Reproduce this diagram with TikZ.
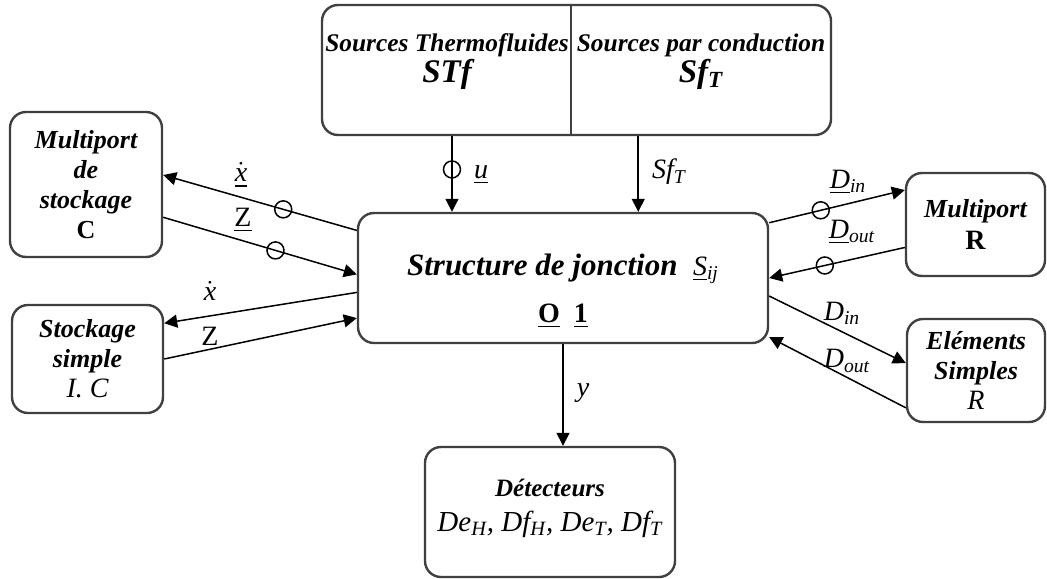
\documentclass[tikz,border=0pt]{standalone}
\usepackage{amsmath}
\usepackage{fontspec}
\setmainfont{Liberation Serif}
\usetikzlibrary{arrows.meta}
\definecolor{boxgray}{HTML}{404040}
\newcommand{\xd}{\ensuremath{\dot{\text{\itshape x}}}}
\newcommand{\sub}[1]{\ensuremath{{}_{\text{#1}}}}
\tikzset{
  block/.style={draw=boxgray, line width=1.2pt, rounded corners=8pt, align=center, inner sep=2pt},
  blocktext/.style={font=\fontsize{13}{15}\selectfont\bfseries\itshape},
  flow/.style={-{Triangle[length=6.5pt,width=6.5pt]}, line width=0.75pt},
  port/.style={circle, draw, line width=0.75pt, inner sep=0pt, minimum size=8.5pt},
  sig/.style={inner sep=1pt, font=\fontsize{14}{16}\selectfont\itshape}
}
\begin{document}
\begin{tikzpicture}[x=0.5pt, y=-0.5pt]
  \useasboundingbox (0,0) rectangle (1047,578);

  % sources
  \node[block, minimum width=254.5pt, minimum height=65pt] (src) at (576.5,70) {};
  \coordinate (div) at (571,70);
  \draw[boxgray, line width=1.2pt] (div |- src.north) -- (div |- src.south);
  \node[blocktext, align=center, font=\fontsize{12.7}{15.5}\selectfont\bfseries\itshape] (stf) at (447,62)
    {Sources Thermofluides\\ {\fontsize{16.5}{15.5}\selectfont STf}};
  \node[blocktext, align=center, font=\fontsize{12.7}{15.5}\selectfont\bfseries\itshape] (sft) at (701,62)
    {Sources par conduction\\ {\fontsize{16.5}{15.5}\selectfont Sf\sub{T}}};

  % jonction et detecteurs
  \node[block, minimum width=205pt, minimum height=65pt, font=\fontsize{15.5}{19}\selectfont\bfseries\itshape] (sj) at (563,278)
    {\rule{0pt}{24pt}Structure de jonction~ {\fontsize{14}{16}\selectfont\mdseries\underline{S}\sub{ij}}\\[4.5pt]
     {\upshape\fontsize{14}{16}\selectfont\underline{O}~~\underline{1}}};
  \node[block, minimum width=125pt, minimum height=65pt, font=\fontsize{14.5}{17.5}\selectfont\itshape] (det) at (550,512)
    {{\fontsize{12.5}{17.5}\selectfont\bfseries D\'etecteurs}\\
     De\sub{H}, Df\sub{H}, De\sub{T}, Df\sub{T}\rule[-7pt]{0pt}{7pt}};

  % elements lateraux
  \node[block, blocktext, minimum width=76pt, minimum height=72.5pt] (mpc) at (86,184.5)
    {Multiport\\ de\\ stockage\\ {\upshape C}};
  \node[block, blocktext, minimum width=75.5pt, minimum height=54pt] (stk) at (87.5,359)
    {Stockage\\ simple\\ {\mdseries\fontsize{14}{15}\selectfont I. C}};
  \node[block, blocktext, minimum width=69.5pt, minimum height=51.5pt, font=\fontsize{13}{16}\selectfont\bfseries\itshape] (mpr) at (975.5,224.5)
    {Multiport\\ {\upshape\fontsize{14}{16}\selectfont R}};
  \node[block, blocktext, minimum width=69pt, minimum height=51.5pt] (els) at (976,370.5)
    {El\'ements\\ Simples\\ {\mdseries\fontsize{14}{15}\selectfont R}};

  % liens
  \draw[flow] (sj.167) -- node[port, pos=0.38] (c1) {} (mpc.7);
  \draw[flow] (mpc.337) -- node[port, pos=0.58] (c2) {} (sj.179);
  \draw[flow] (sj.184) -- (stk.25);
  \draw[flow] (stk.0) -- (sj.191);
  \draw[flow] (sj.15) -- node[port, pos=0.38] (c3) {} (mpr.154);
  \draw[flow] (mpr.198) -- node[port, pos=0.59] (c4) {} (sj.0);
  \draw[flow] (sj.355) -- (els.174);
  \draw[flow] (els.208) -- (sj.344);
  \draw[flow] (src.208) -- node[port, pos=0.44] (c5) {} (src.208 |- sj.north);
  \draw[flow] (src.313) -- (src.313 |- sj.north);
  \draw[flow] (sj.south) -- (sj.south |- det.north);

  % etiquettes
  \node[sig] (lx1) at (241,175) {\underline{\xd}};
  \node[sig] (lz1) at (243,220) {\upshape\underline{Z}};
  \node[sig] (lx2) at (210,291) {\xd};
  \node[sig] (lz2) at (210,336) {\upshape Z};
  \node[sig] (lu) at (481,175) {\underline{u}};
  \node[sig] (lsf) at (669,172) {Sf\sub{T}};
  \node[sig] (ly) at (583,393) {y};
  \node[sig] (ld1) at (848,182) {\underline{D}\sub{in}};
  \node[sig] (ld2) at (852,232) {\underline{D}\sub{out}};
  \node[sig] (ld3) at (842,313) {D\sub{in}};
  \node[sig] (ld4) at (847,361) {D\sub{out}};
\end{tikzpicture}
\end{document}
